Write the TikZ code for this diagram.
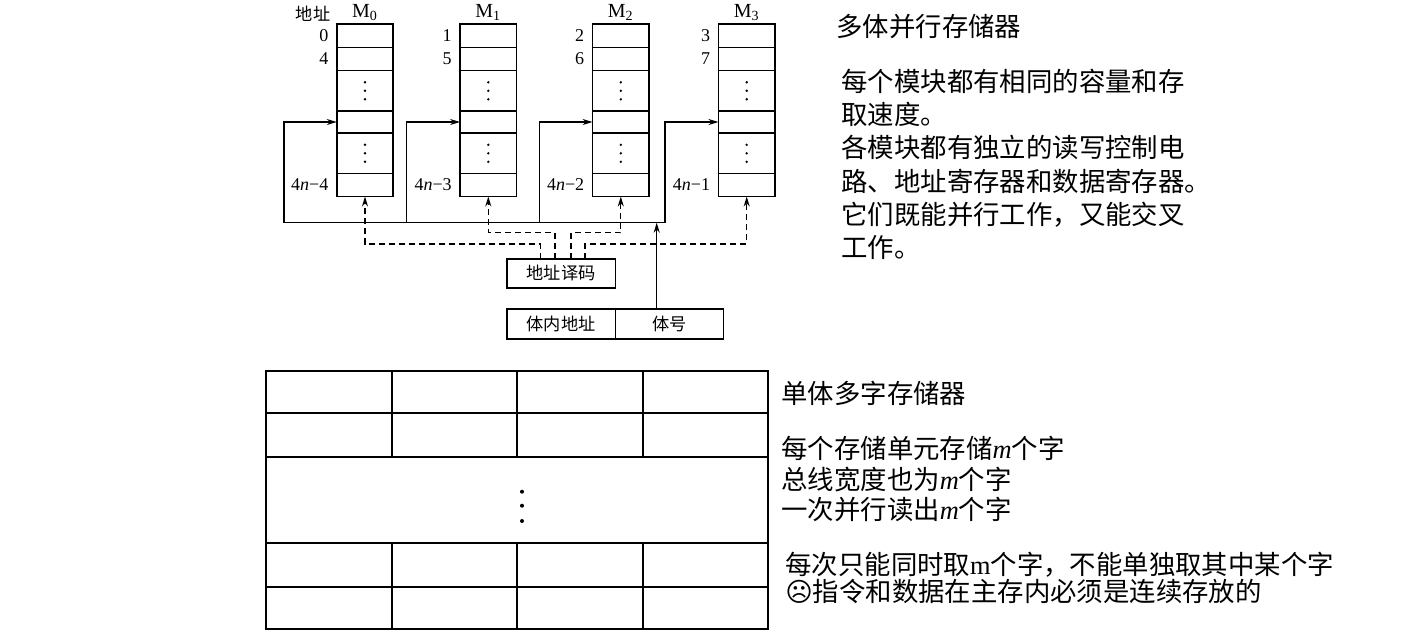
\documentclass[tikz,border=0pt]{standalone}
\usepackage{fontspec}
\setmainfont{Liberation Serif}
\newfontfamily\cjk{Noto Sans CJK SC}
\newfontfamily\symb{DejaVu Sans}
\usetikzlibrary{arrows.meta,positioning}
\newcommand\vm{{\rmfamily\itshape m}}

\begin{document}
\begin{tikzpicture}[x=0.5pt,y=-0.5pt,
  cell/.style={draw,line width=0.9pt,minimum width=28.25pt,inner sep=0pt,outer sep=0pt},
  lbl/.style={inner sep=0pt,font=\fontsize{9}{10}\selectfont},
  box/.style={draw,line width=0.8pt,inner sep=0pt,outer sep=0pt,font=\cjk\fontsize{8.6}{10}\selectfont},
  wire/.style={line width=0.65pt},
  arr/.style={-{Stealth[length=5pt,width=3pt]}},
  dsh/.style={wire,dash pattern=on 3pt off 2pt},
  txt/.style={inner sep=0pt,align=left,anchor=north west,font=\cjk\fontsize{13.2}{16.6}\selectfont},
  tbl/.style={line width=0.85pt}
]
  \useasboundingbox (0,0) rectangle (1421,638);

  % four memory modules
  \node[lbl,font=\cjk\fontsize{8.6}{10}\selectfont] (addr) at (313,14) {地址};
  \foreach \i/\x/\a/\b/\c in {0/365/0/4/4,1/488.3/1/5/3,2/620.8/2/6/2,3/746.7/3/7/1}{
    \node[cell,minimum height=11.75pt] (m\i-1) at (\x,35.75) {};
    \node[cell,minimum height=11.5pt,below=0pt of m\i-1] (m\i-2) {};
    \node[cell,minimum height=20.25pt,below=0pt of m\i-2] (m\i-3) {};
    \node[cell,minimum height=11pt,below=0pt of m\i-3] (m\i-4) {};
    \node[cell,minimum height=20.25pt,below=0pt of m\i-4] (m\i-5) {};
    \node[cell,minimum height=11.5pt,below=0pt of m\i-5] (m\i-6) {};
    \foreach \r in {3,5}
      \foreach \k in {-1,0,1}
        \fill ([yshift=\k*4.25pt]m\i-\r.center) circle (0.65pt);
    \node[lbl,font=\fontsize{10}{11}\selectfont,above=1.5pt of m\i-1] (mh\i) {M\textsubscript{\i}};
    \node[lbl,left=4pt of m\i-1] (la\i) {\a};
    \node[lbl,left=4pt of m\i-2] (lb\i) {\b};
    \node[lbl,left=4pt of m\i-6] (lc\i) {4\textit{n}−\c};
  }

  % decoder and address register
  \node[box,minimum width=54.3pt,minimum height=14.65pt] (dec) at (561,273.35) {地址译码};
  \node[box,minimum width=54.3pt,minimum height=15pt] (bn) at (561,324) {体内地址};
  \node[box,minimum width=54pt,minimum height=15pt,right=0pt of bn] (bh) {体号};

  % bank number bus
  \foreach \i/\bx in {0/284,1/406.7,2/539.3,3/665}{
    \coordinate (b\i) at (\bx,222.7);
    \draw[wire,arr] (b\i) |- (m\i-4.west);
  }
  \draw[wire] (b0) -- (b3);
  \coordinate (tap) at (656.7,222.7);
  \draw[wire,arr] (tap |- bh.north) -- (tap);

  % decoder outputs
  \coordinate (lo) at (0,244);
  \coordinate (hi) at (0,232.7);
  \coordinate (d0) at (540.7,0);
  \coordinate (d1) at (555,0);
  \coordinate (d2) at (571,0);
  \coordinate (d3) at (585,0);
  \draw[dsh,arr] (dec.north -| d0) -- (d0 |- lo) -| (m0-6.south);
  \draw[dsh,arr] (dec.north -| d1) -- (d1 |- hi) -| (m1-6.south);
  \draw[dsh,arr] (dec.north -| d2) -- (d2 |- hi) -| (m2-6.south);
  \draw[dsh,arr] (dec.north -| d3) -- (d3 |- lo) -| (m3-6.south);

  \node[txt,anchor=west] (t1) at (836,27) {多体并行存储器};
  \node[txt] (t2) at (841,68.8) {每个模块都有相同的容量和存\\取速度。\\各模块都有独立的读写控制电\\路、地址寄存器和数据寄存器。\\它们既能并行工作，又能交叉\\工作。};

  % single bank, multi-word memory
  \draw[tbl] (266,371) rectangle (768.3,629.3);
  \foreach \y in {413.3,457,543,586.7}
    \draw[tbl] (266,\y) -- (768.3,\y);
  \foreach \x in {391.7,517,642.7}{
    \draw[tbl] (\x,371) -- (\x,457);
    \draw[tbl] (\x,543) -- (\x,629.3);
  }
  \foreach \y in {491.7,505.7,521}
    \fill (522,\y) circle (1pt);

  \node[txt,anchor=west] (t3) at (781,393) {单体多字存储器};
  \node[txt,font=\cjk\fontsize{13.2}{15.25}\selectfont] (t4) at (781,435.8)
    {每个存储单元存储\vm 个字\\总线宽度也为\vm 个字\\一次并行读出\vm 个字};
  \node[txt,font=\cjk\fontsize{13.2}{13.5}\selectfont] (t5) at (785,551.8)
    {每次只能同时取{\rmfamily m}个字，不能单独取其中某个字\\{\symb ☹}指令和数据在主存内必须是连续存放的};
\end{tikzpicture}
\end{document}
